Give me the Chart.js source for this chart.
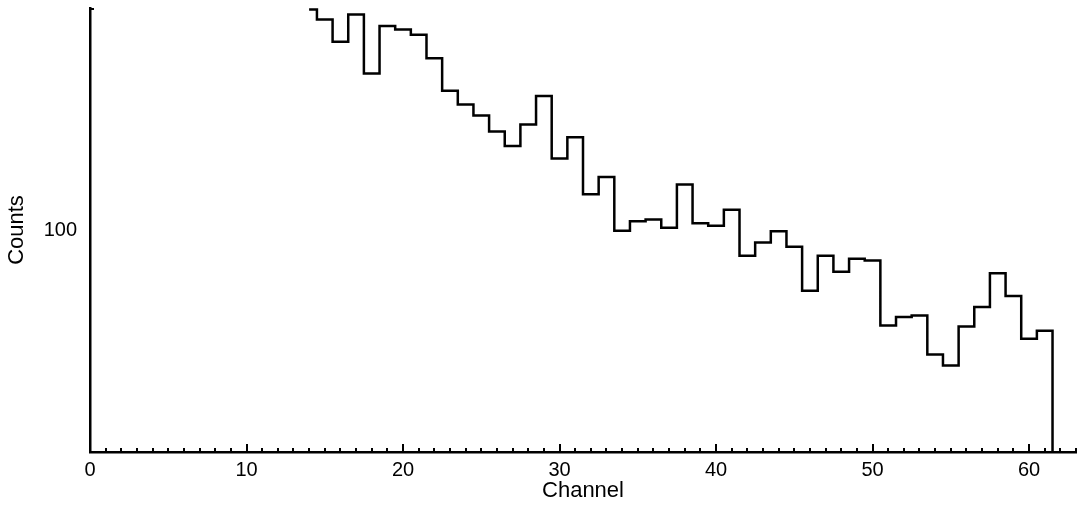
<!DOCTYPE html>
<html>
<head>
<meta charset="utf-8">
<script src="https://cdn.jsdelivr.net/npm/chart.js@4"></script>
<style>
  html, body { margin: 0; padding: 0; background: #fff; }
  #wrap { width: 1077px; height: 506px; position: relative; }
</style>
</head>
<body>
<div id="wrap"><canvas id="c" width="1077" height="506"></canvas></div>
<script>
// Channels (bin centres) and counts
const channels = [14, 15, 16, 17, 18, 19, 20, 21, 22, 23, 24, 25, 26, 27, 28, 29, 30, 31,
  32, 33, 34, 35, 36, 37, 38, 39, 40, 41, 42, 43, 44, 45, 46, 47, 48, 49, 50, 51, 52, 53,
  54, 55, 56, 57, 58, 59, 60, 61, 62];
const counts = [199, 193, 180, 196, 163, 189, 187, 184, 171, 154.5, 148, 143, 136, 130, 139, 152, 125, 133.6,
  111.8, 118, 99.8, 102.8, 103.3, 100.7, 115.3, 102.1, 101.3, 106.5, 92.3, 96.2, 99.6, 94.9, 82.7, 92.3, 87.8, 91.4, 90.9, 74.2, 76.2, 76.6,
  67.8, 65.5, 74, 78.6, 87.4, 81.4, 71.2, 73, 1];
const xTickLabels = [0, 10, 20, 30, 40, 50, 60];
const yTickLabels = [100];

const FONT = '"Liberation Sans", Arial, Helvetica, sans-serif';

const innerTicks = {
  id: 'innerTicks',
  afterDraw(chart) {
    const ctx = chart.ctx;
    const xs = chart.scales.x, ys = chart.scales.y;
    const bottom = chart.chartArea.bottom, left = chart.chartArea.left;
    ctx.save();
    ctx.strokeStyle = '#000';
    ctx.lineWidth = 2;
    for (let v = 1; v <= xs.max; v++) {
      const px = Math.round(xs.getPixelForValue(v));
      const len = (v % 10 === 0) ? 8 : 4;
      ctx.beginPath();
      ctx.moveTo(px, bottom);
      ctx.lineTo(px, bottom - len);
      ctx.stroke();
    }
    const py = ys.getPixelForValue(ys.max);
    ctx.beginPath();
    ctx.moveTo(left, py + 1);
    ctx.lineTo(left + 4, py + 1);
    ctx.stroke();
    ctx.restore();
  }
};

new Chart(document.getElementById('c'), {
  type: 'line',
  data: {
    datasets: [{
      data: channels.map((c, i) => ({ x: c, y: counts[i] })),
      stepped: 'middle',
      borderColor: '#000',
      borderWidth: 2.5,
      pointRadius: 0,
      fill: false
    }]
  },
  options: {
    responsive: false,
    animation: false,
    events: [],
    layout: { padding: { top: 8, right: 1, left: 0, bottom: 0 } },
    plugins: { legend: { display: false }, tooltip: { enabled: false } },
    scales: {
      x: {
        type: 'linear',
        min: 0,
        max: 63,
        afterFit(s) { s.height = 54; s.paddingLeft = 0; s.paddingRight = 0; },
        afterBuildTicks(s) { s.ticks = xTickLabels.map(v => ({ value: v })); },
        grid: { display: false, drawTicks: false },
        border: { display: true, color: '#000', width: 2.5 },
        ticks: {
          color: '#000', padding: 6, maxRotation: 0, autoSkip: false,
          font: { family: FONT, size: 20 },
          callback: v => String(v)
        },
        title: {
          display: true, text: 'Channel', color: '#000',
          font: { family: FONT, size: 22 },
          padding: { top: 0, bottom: 2 }
        }
      },
      y: {
        type: 'logarithmic',
        min: 50,
        max: 200,
        afterFit(s) { s.width = 90; s.paddingTop = 0; s.paddingBottom = 0; },
        afterBuildTicks(s) { s.ticks = yTickLabels.map(v => ({ value: v })); },
        grid: { display: false, drawTicks: false },
        border: { display: true, color: '#000', width: 2.5 },
        ticks: {
          color: '#000', padding: 13, autoSkip: false,
          font: { family: FONT, size: 20 },
          callback: v => String(v)
        },
        title: {
          display: true, text: 'Counts', color: '#000',
          font: { family: FONT, size: 22 },
          padding: { top: 4, bottom: 0 }
        }
      }
    }
  },
  plugins: [innerTicks]
});
</script>
</body>
</html>
